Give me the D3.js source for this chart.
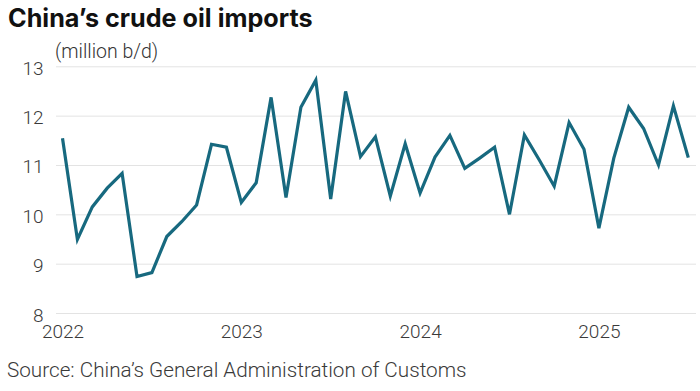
<!DOCTYPE html>
<html><head><meta charset="utf-8">
<script src="https://cdn.jsdelivr.net/npm/d3@7"></script>
<style>
body{margin:0;background:#fff;}
svg{display:block;font-family:Roboto,"Noto Sans",sans-serif;}
</style></head>
<body><svg id="c" width="700" height="391"></svg>
<script>
const startYear = 2022;
const yearLabels = ["2022","2023","2024","2025"];
const yTicks = [8,9,10,11,12,13];
const imports = [
 11.54, 9.49, 10.15, 10.53, 10.83, 8.74, 8.82, 9.55, 9.85, 10.19, 11.42, 11.36,
 10.24, 10.64, 12.37, 10.34, 12.17, 12.72, 10.31, 12.49, 11.17, 11.57, 10.37, 11.43,
 10.43, 11.16, 11.60, 10.93, 11.14, 11.36, 10.00, 11.61, 11.10, 10.57, 11.86, 11.32,
 9.72, 11.14, 12.17, 11.74, 11.00, 12.20, 11.15
];
const data = imports.map((v,i)=>({m:i, v}));

const svg = d3.select("#c");
const x = d3.scaleLinear().domain([0, imports.length-1]).range([62.5, 688.3]);
const y = d3.scaleLinear().domain([8,13]).range([313, 66.3]);

svg.append("text").attr("x",8).attr("y",27)
  .attr("font-family","Inter, Roboto, sans-serif").attr("font-weight",700)
  .attr("font-size",25.2).attr("fill","#111")
  .text("China’s crude oil imports");

svg.append("text").attr("x",55).attr("y",58).attr("font-size",19.5)
  .attr("fill","#333").attr("font-weight",300).text("(million b/d)");

// grid
const yAxis = d3.axisLeft(y).tickValues(yTicks).tickSize(0).tickPadding(0).tickFormat(d3.format("d"));
const gy = svg.append("g").attr("transform","translate(56,0)").call(yAxis);
gy.select(".domain").remove();
gy.selectAll(".tick line").remove();
gy.selectAll(".tick").append("line").attr("x1",0).attr("x2",640).attr("stroke","#e3e3e3").attr("stroke-width",1);
gy.selectAll(".tick text").attr("x",-12.5).attr("dy",8).attr("font-size",19)
  .attr("fill","#3a3a3a").attr("font-family","Roboto, sans-serif").attr("font-weight",300);

// x axis
const xAxis = d3.axisBottom(x).tickValues([0,12,24,36]).tickSize(0)
  .tickFormat((d,i)=>yearLabels[i]);
const gx = svg.append("g").attr("transform","translate(0,337.5)").call(xAxis);
gx.select(".domain").remove();
gx.selectAll(".tick text").attr("y",0).attr("dy",0).attr("font-size",19)
  .attr("fill","#3a3a3a").attr("font-family","Roboto, sans-serif").attr("font-weight",300);

// line
svg.append("path").datum(data)
  .attr("fill","none").attr("stroke","#17697f").attr("stroke-width",3.2)
  .attr("stroke-linejoin","miter").attr("stroke-linecap","butt")
  .attr("d", d3.line().x(d=>x(d.m)).y(d=>y(d.v)));

svg.append("text").attr("x",7).attr("y",377).attr("font-size",20.7)
  .attr("fill","#3a3a3a").attr("font-weight",300)
  .text("Source: China’s General Administration of Customs");
</script></body></html>
